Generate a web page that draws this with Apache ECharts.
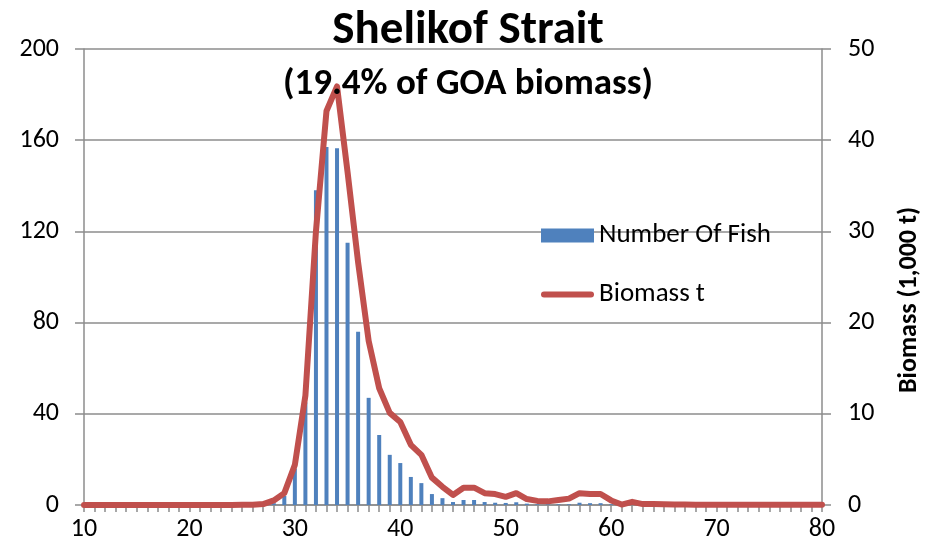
<!DOCTYPE html>
<html>
<head>
<meta charset="utf-8">
<title>Shelikof Strait</title>
<script src="https://cdn.jsdelivr.net/npm/echarts@6/dist/echarts.min.js"></script>
<style>
  html, body { margin: 0; padding: 0; background: #fff; }
  #chart { width: 936px; height: 553px; }
</style>
</head>
<body>
<div id="chart"></div>
<script>
// length classes (cm), 10..80
var lengths = [10, 11, 12, 13, 14, 15, 16, 17, 18, 19,
  20, 21, 22, 23, 24, 25, 26, 27, 28, 29,
  30, 31, 32, 33, 34, 35, 36, 37, 38, 39,
  40, 41, 42, 43, 44, 45, 46, 47, 48, 49,
  50, 51, 52, 53, 54, 55, 56, 57, 58, 59,
  60, 61, 62, 63, 64, 65, 66, 67, 68, 69,
  70, 71, 72, 73, 74, 75, 76, 77, 78, 79, 80];

// number of fish (left axis)
var numberOfFish = [0, 0, 0, 0, 0, 0, 0, 0, 0, 0,
  0, 0, 0, 0, 0, 0, 0, 0, 0.8, 4,
  16, 45, 138, 157, 156.5, 115, 76, 47, 30.7, 22,
  18.4, 12.3, 9.6, 4.8, 3, 1.3, 2.2, 2.2, 1.3, 1,
  0.9, 1.2, 0.6, 0.3, 0.3, 0.3, 0.3, 1, 0.8, 0.8,
  0.3, 0, 0, 0, 0, 0, 0, 0, 0, 0,
  0, 0, 0, 0, 0, 0, 0, 0, 0, 0, 0];

// biomass, 1,000 t (right axis)
var biomass = [0, 0, 0, 0, 0, 0, 0, 0, 0, 0,
  0, 0, 0, 0, 0, 0.02, 0.03, 0.1, 0.5, 1.3,
  4.4, 12, 30, 43.2, 45.9, 36.5, 26.6, 18, 12.8, 10.1,
  9.1, 6.6, 5.5, 3, 2, 1.1, 1.9, 1.9, 1.3, 1.2,
  0.9, 1.3, 0.65, 0.45, 0.4, 0.55, 0.7, 1.3, 1.2, 1.2,
  0.5, 0.05, 0.35, 0.1, 0.1, 0.08, 0.05, 0.05, 0.03, 0.03,
  0.02, 0.02, 0.02, 0.02, 0.02, 0.02, 0.02, 0.02, 0.02, 0.02, 0.02];

var fontName = 'Carlito, Lato, "Open Sans", sans-serif';
var gridColor = '#8c8c8c';

var chart = echarts.init(document.getElementById('chart'), null, { renderer: 'canvas' });

chart.setOption({
  animation: false,
  textStyle: { fontFamily: fontName },
  title: [{
    text: 'Shelikof Strait',
    left: 'center',
    top: 3,
    textStyle: { fontFamily: fontName, fontSize: 47, fontWeight: 'bold', color: '#000' }
  }, {
    text: '(19.4% of GOA biomass)',
    left: 'center',
    top: 61,
    textStyle: { fontFamily: fontName, fontSize: 37, fontWeight: 'bold', color: '#000' }
  }],
  legend: {
    orient: 'vertical',
    left: 536,
    top: 217,
    itemGap: 32,
    itemWidth: 53,
    itemHeight: 14,
    textStyle: { fontFamily: fontName, fontSize: 27, color: '#000' },
    data: [
      { name: 'Number Of Fish', icon: 'rect' },
      // thick rounded stroke, like the series line
      { name: 'Biomass t', icon: 'path://M3,0 L50,0 A3,3 0 0 1 50,6 L3,6 A3,3 0 0 1 3,0 Z' }
    ]
  },
  grid: { left: 84, right: 114, top: 49, bottom: 48 },
  xAxis: {
    type: 'category',
    data: lengths,
    boundaryGap: false,
    axisLine: { lineStyle: { color: gridColor, width: 1.5 } },
    axisTick: { interval: 0, length: 7, lineStyle: { color: gridColor, width: 1.5 } },
    axisLabel: { interval: 9, color: '#000', fontSize: 26, fontFamily: fontName, margin: 11 },
    splitLine: { show: false }
  },
  yAxis: [{
    type: 'value',
    min: 0,
    max: 200,
    interval: 40,
    axisLine: { show: true, lineStyle: { color: gridColor, width: 1.5 } },
    axisTick: { show: true, length: 9, lineStyle: { color: gridColor, width: 1.5 } },
    axisLabel: { color: '#000', fontSize: 26, fontFamily: fontName, margin: 25 },
    splitLine: { lineStyle: { color: gridColor, width: 1.5 } }
  }, {
    type: 'value',
    min: 0,
    max: 50,
    interval: 10,
    position: 'right',
    name: 'Biomass (1,000 t)',
    nameLocation: 'middle',
    nameRotate: 90,
    nameGap: 74,
    nameTextStyle: { fontFamily: fontName, fontSize: 26, fontWeight: 'bold', color: '#000', padding: [0, 46, 0, 0] },
    axisLine: { show: true, lineStyle: { color: gridColor, width: 1.5 } },
    axisTick: { show: true, length: 9, lineStyle: { color: gridColor, width: 1.5 } },
    axisLabel: { color: '#000', fontSize: 26, fontFamily: fontName, margin: 26 },
    splitLine: { show: false }
  }],
  series: [{
    name: 'Number Of Fish',
    type: 'bar',
    yAxisIndex: 0,
    barWidth: 4,
    itemStyle: { color: '#4f81bd' },
    data: numberOfFish
  }, {
    name: 'Biomass t',
    type: 'line',
    yAxisIndex: 1,
    showSymbol: false,
    symbol: 'none',
    lineStyle: { color: '#c0504d', width: 6, cap: 'round', join: 'round' },
    itemStyle: { color: '#c0504d' },
    data: biomass
  }]
});
</script>
</body>
</html>
